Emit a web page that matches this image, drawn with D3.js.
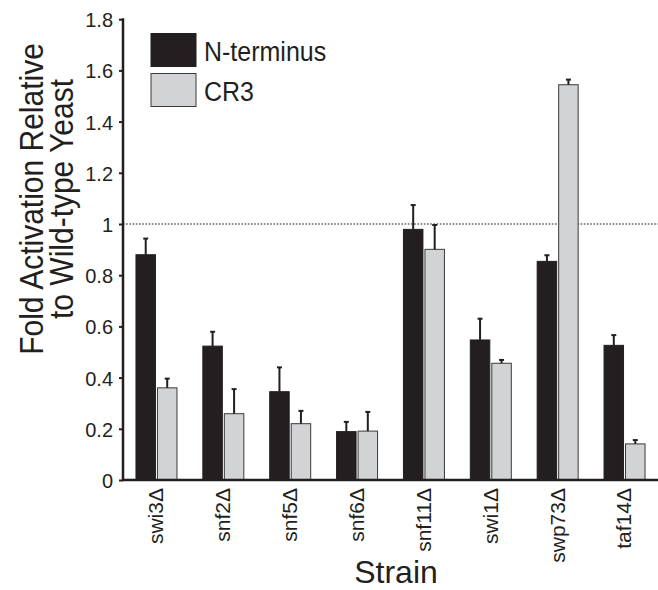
<!DOCTYPE html>
<html>
<head>
<meta charset="utf-8">
<script src="https://cdn.jsdelivr.net/npm/d3@7"></script>
<style>
  html, body { margin: 0; padding: 0; background: #fff; }
  svg { display: block; font-family: "Liberation Sans", Arial, Helvetica, sans-serif; }
</style>
</head>
<body>
<svg id="chart" width="658" height="590"></svg>
<script>
const strains = ["swi3Δ", "snf2Δ", "snf5Δ", "snf6Δ", "snf11Δ", "swi1Δ", "swp73Δ", "taf14Δ"];
const seriesNames = ["N-terminus", "CR3"];
const nTerminus = [0.88, 0.523, 0.345, 0.189, 0.979, 0.547, 0.854, 0.526];
const nTerminusErr = [0.063, 0.056, 0.095, 0.038, 0.095, 0.083, 0.024, 0.040];
const cr3 = [0.360, 0.259, 0.220, 0.191, 0.901, 0.456, 1.544, 0.141];
const cr3Err = [0.036, 0.096, 0.050, 0.075, 0.095, 0.013, 0.020, 0.015];
const yTicks = [0, 0.2, 0.4, 0.6, 0.8, 1, 1.2, 1.4, 1.6, 1.8];
const referenceLine = 1;
const colors = { "N-terminus": "#231f20", "CR3": "#d1d3d4" };

const rows = strains.map((s, i) => ({
  strain: s,
  values: [
    { key: "N-terminus", v: nTerminus[i], e: nTerminusErr[i] },
    { key: "CR3", v: cr3[i], e: cr3Err[i] }
  ]
}));

const svg = d3.select("#chart");
const x0 = 123, x1 = 658, yTop = 19.2, yBot = 480;

const x = d3.scaleBand().domain(strains).range([x0, x1]).paddingInner(0.387).paddingOuter(0.194);
const xs = d3.scaleBand().domain(seriesNames).range([0, x.bandwidth()]).padding(0);
const y = d3.scaleLinear().domain([0, 1.8]).range([yBot, yTop]);

// reference dotted line
svg.append("line")
  .attr("x1", x0).attr("x2", x1)
  .attr("y1", y(referenceLine)).attr("y2", y(referenceLine))
  .attr("stroke", "#8a8a8a").attr("stroke-width", 1.8)
  .attr("stroke-dasharray", "1.6,1.6");

// bars
const g = svg.append("g").selectAll("g").data(rows).join("g")
  .attr("transform", d => `translate(${x(d.strain)},0)`);

g.selectAll("rect").data(d => d.values).join("rect")
  .attr("x", d => xs(d.key) + (d.key === "CR3" ? 1 : 0))
  .attr("width", d => xs.bandwidth() - 1)
  .attr("y", d => y(d.v))
  .attr("height", d => y(0) - y(d.v))
  .attr("fill", d => colors[d.key])
  .attr("stroke", d => d.key === "CR3" ? "#3a3a3a" : "#231f20")
  .attr("stroke-width", 1);

const cx = d => xs(d.key) + xs.bandwidth() / 2 + (d.key === "CR3" ? 0.5 : -0.5);

// error bars (upward only)
g.selectAll("line.err").data(d => d.values).join("line")
  .attr("class", "err")
  .attr("x1", cx).attr("x2", cx)
  .attr("y1", d => y(d.v))
  .attr("y2", d => y(d.v + d.e))
  .attr("stroke", "#231f20").attr("stroke-width", 2);

g.selectAll("line.cap").data(d => d.values).join("line")
  .attr("class", "cap")
  .attr("x1", d => cx(d) - 2.5)
  .attr("x2", d => cx(d) + 2.5)
  .attr("y1", d => y(d.v + d.e))
  .attr("y2", d => y(d.v + d.e))
  .attr("stroke", "#231f20").attr("stroke-width", 2);

// y axis
const yAxis = d3.axisLeft(y).tickValues(yTicks).tickSize(4).tickPadding(6)
  .tickFormat(d => String(+d.toFixed(1)));
const ya = svg.append("g").attr("transform", `translate(${x0},0)`).call(yAxis);
ya.select(".domain").remove();
ya.selectAll(".tick line").attr("stroke", "#231f20").attr("stroke-width", 2);
ya.selectAll(".tick text").attr("font-size", 20).attr("fill", "#231f20")
  .attr("font-family", "Liberation Sans, Arial, sans-serif")
  .attr("x", null).attr("dy", null)
  .attr("transform", "translate(-10,7.5) scale(1,1.05)");
svg.append("line").attr("x1", x0).attr("x2", x0).attr("y1", yTop - 1).attr("y2", yBot + 1)
  .attr("stroke", "#231f20").attr("stroke-width", 2.5);

// x axis
const xAxis = d3.axisBottom(x).tickSize(0).tickPadding(0);
const xa = svg.append("g").attr("transform", `translate(0,${yBot})`).call(xAxis);
xa.select(".domain").remove();
xa.selectAll(".tick text")
  .attr("font-size", 21).attr("fill", "#231f20")
  .attr("font-family", "Liberation Sans, Arial, sans-serif")
  .attr("text-anchor", "end")
  .attr("transform", "rotate(-90)")
  .attr("x", -8).attr("y", 0).attr("dy", "0.33em");
svg.append("line").attr("x1", x0 - 1).attr("x2", x1).attr("y1", yBot).attr("y2", yBot)
  .attr("stroke", "#231f20").attr("stroke-width", 2.5);

// axis titles
const yt = svg.append("text")
  .attr("transform", `translate(43,199) rotate(-90) scale(1,1.1)`)
  .attr("text-anchor", "middle").attr("font-size", 30).attr("fill", "#231f20");
yt.append("tspan").attr("x", 0).attr("y", 0).text("Fold Activation Relative");
yt.append("tspan").attr("x", 0).attr("y", 27.3).text("to Wild-type Yeast");

svg.append("text").attr("x", 396).attr("y", 583)
  .attr("text-anchor", "middle").attr("font-size", 32).attr("fill", "#231f20")
  .text("Strain");

// legend
const legend = svg.append("g").selectAll("g").data(seriesNames).join("g")
  .attr("transform", (d, i) => `translate(151,${33.5 + i * 40})`);
legend.append("rect")
  .attr("width", 45).attr("height", 33)
  .attr("fill", d => colors[d])
  .attr("stroke", d => d === "CR3" ? "#3a3a3a" : "#231f20").attr("stroke-width", 1);
legend.append("text")
  .attr("transform", "translate(53,27) scale(1,1.12)")
  .attr("font-size", 25).attr("fill", "#231f20")
  .text(d => d);
</script>
</body>
</html>
